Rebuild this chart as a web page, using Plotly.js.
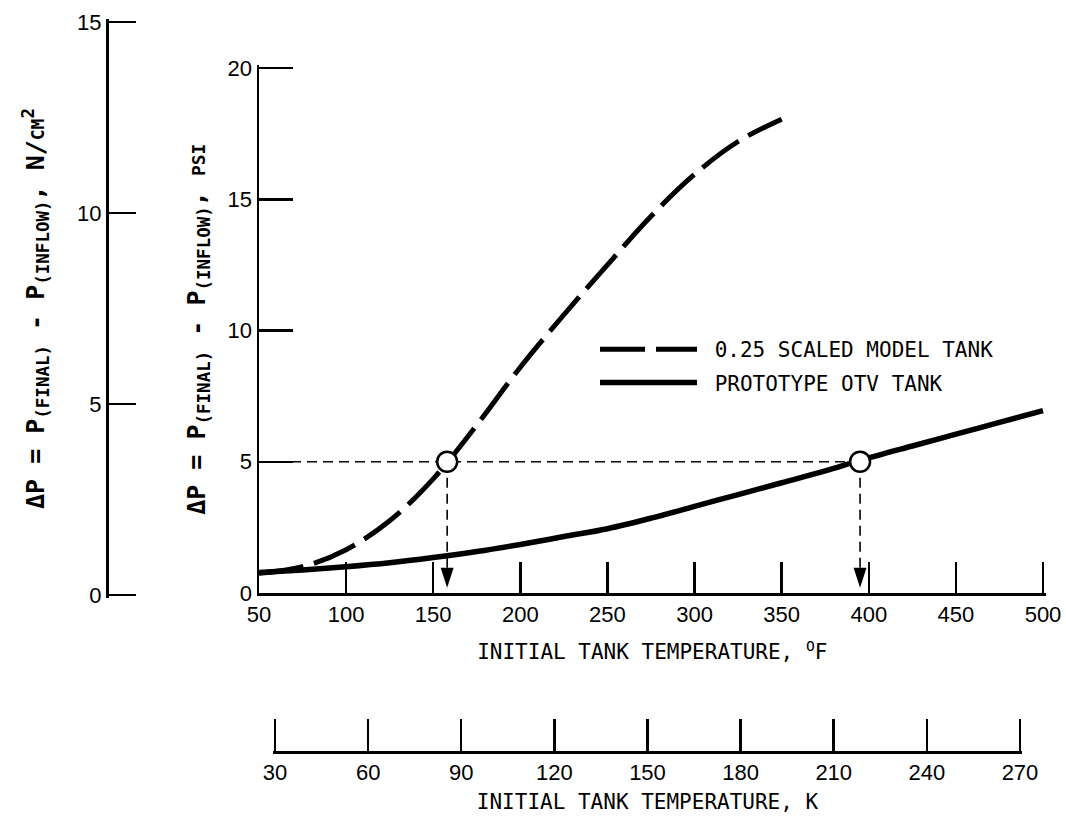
<!DOCTYPE html>
<html>
<head>
<meta charset="utf-8">
<script src="https://cdn.plot.ly/plotly-3.0.1.min.js"></script>
<style>
  html, body { margin: 0; padding: 0; background: #fff; }
  #chart { width: 1066px; height: 817px; }
</style>
</head>
<body>
<div id="chart"></div>
<script>
// ---- data ----
const modelTempF = [50, 75, 100, 125, 150, 175, 200, 225, 250, 275, 300, 325, 350];
const modelDp    = [0.75, 1.0, 1.65, 2.75, 4.35, 6.4, 8.6, 10.6, 12.5, 14.35, 15.95, 17.2, 18.05];

const protoTempF = [50, 75, 100, 125, 150, 175, 200, 225, 250, 275, 300, 325, 350, 375, 395, 425, 450, 475, 500];
const protoDp    = [0.78, 0.88, 1.0, 1.15, 1.35, 1.58, 1.85, 2.15, 2.45, 2.85, 3.3, 3.75, 4.2, 4.65, 5.05, 5.6, 6.05, 6.5, 6.95];

const matchDp = 5;                 // psi
const matchTempModel = 158;        // deg F
const matchTempProto = 395;        // deg F
const axisStartF = 50;
const arrowTipDp = 0.2;

const ticksF   = [50, 100, 150, 200, 250, 300, 350, 400, 450, 500];
const ticksPsi = [0, 5, 10, 15, 20];
const ticksN   = [0, 5, 10, 15];
const ticksK   = [30, 60, 90, 120, 150, 180, 210, 240, 270];

const seriesNames = ['0.25 SCALED MODEL TANK', 'PROTOTYPE OTV TANK'];

// ---- styling ----
const mono = 'DejaVu Sans Mono, Liberation Mono, monospace';
const nums = 'Liberation Sans Narrow, Liberation Sans, sans-serif';
const refLine = {color: 'black', width: 1.6, dash: '10px,6px'};

const traces = [
  { x: modelTempF, y: modelDp, type: 'scatter', mode: 'lines', name: '\u00a0' + seriesNames[0],
    legendgroup: 'a', line: {color: 'black', width: 5, dash: '45px,11px', shape: 'spline', smoothing: 1},
    hoverinfo: 'skip' },
  { x: protoTempF, y: protoDp, type: 'scatter', mode: 'lines', name: '\u00a0' + seriesNames[1],
    legendgroup: 'b', line: {color: 'black', width: 5.5, shape: 'spline', smoothing: 1},
    hoverinfo: 'skip' },
  { x: [axisStartF, matchTempProto], y: [matchDp, matchDp], type: 'scatter', mode: 'lines',
    line: refLine, showlegend: false, hoverinfo: 'skip' },
  { x: [matchTempModel, matchTempModel, null, matchTempProto, matchTempProto],
    y: [matchDp, arrowTipDp + 0.6, null, matchDp, arrowTipDp + 0.6], type: 'scatter', mode: 'lines',
    line: refLine, showlegend: false, hoverinfo: 'skip' },
  { x: [matchTempModel, matchTempProto], y: [arrowTipDp, arrowTipDp], type: 'scatter', mode: 'markers',
    marker: {symbol: 'arrow', angle: 180, size: 21, color: 'black', line: {width: 0}},
    showlegend: false, hoverinfo: 'skip', cliponaxis: false },
  { x: [matchTempModel, matchTempProto], y: [matchDp, matchDp], type: 'scatter', mode: 'markers',
    marker: {symbol: 'circle', size: 20, color: 'white', line: {color: 'black', width: 2.5}},
    showlegend: false, hoverinfo: 'skip' },
  // anchor traces for the secondary scales
  { x: [], y: [], xaxis: 'x', yaxis: 'y2', type: 'scatter', mode: 'none', showlegend: false, hoverinfo: 'skip' },
  { x: [], y: [], xaxis: 'x2', yaxis: 'y', type: 'scatter', mode: 'none', showlegend: false, hoverinfo: 'skip' }
];

const W = 1066, H = 817;
const L = 107, R = 18, T = 16, B = 65;
const pw = W - L - R, ph = H - T - B;
const px = v => (v - L) / pw;
const py = v => (H - B - v) / ph;

// pixel placement of the scales (first/last tick positions on the page)
const fPix = {v0: 50, p0: 259, v1: 500, p1: 1043};
const kPix = {v0: 30, p0: 275, v1: 270, p1: 1020};
const psiPix = {v0: 0, p0: 593, v1: 20, p1: 68};
const nPix = {v0: 0, p0: 595, v1: 15, p1: 22};
const lin = (s, v) => s.p0 + (v - s.v0) * (s.p1 - s.p0) / (s.v1 - s.v0);

// ranges padded a hair so the end ticks are drawn
const rangeF = [50, 501.5];
const rangeK = [29.2, 270.8];
const rangePsi = [0, 20.1];
const rangeN = [-0.07, 15.07];

const common = {
  showgrid: false, zeroline: false, showline: true, linecolor: 'black', linewidth: 2.5,
  ticks: 'inside', tickcolor: 'black', tickwidth: 2.5,
  tickfont: {family: nums, size: 22, color: 'black', stretch: 'condensed'}, tickmode: 'array', fixedrange: true
};

const yTitleFont = {family: mono, size: 25, color: 'black', weight: 'bold'};

const layout = {
  width: W, height: H,
  margin: {l: L, r: R, t: T, b: B, pad: 0},
  paper_bgcolor: 'white', plot_bgcolor: 'rgba(0,0,0,0)',
  showlegend: true,
  legend: {
    x: px(595), y: py(329), xanchor: 'left', yanchor: 'top',
    font: {family: mono, size: 21, color: 'black'},
    itemwidth: 97, traceorder: 'grouped', tracegroupgap: 3,
    bgcolor: 'rgba(0,0,0,0)', borderwidth: 0
  },
  xaxis: Object.assign({}, common, {
    domain: [px(lin(fPix, rangeF[0])), px(lin(fPix, rangeF[1]))], range: rangeF, anchor: 'y',
    tickvals: ticksF, ticktext: ticksF.map(String), ticklen: 31,
    title: {text: 'INITIAL TANK TEMPERATURE, <sup>O</sup>F', font: {family: mono, size: 21, color: 'black'}, standoff: 19}
  }),
  xaxis2: Object.assign({}, common, {
    domain: [px(lin(kPix, rangeK[0])), px(lin(kPix, rangeK[1]))], range: rangeK, anchor: 'free', position: 0, side: 'bottom',
    tickvals: ticksK, ticktext: ticksK.map(String), ticklen: 32,
    title: {text: 'INITIAL TANK TEMPERATURE, K', font: {family: mono, size: 21, color: 'black'}, standoff: 10}
  }),
  yaxis: Object.assign({}, common, {
    domain: [py(lin(psiPix, rangePsi[0])), py(lin(psiPix, rangePsi[1]))], range: rangePsi, anchor: 'x',
    tickvals: ticksPsi, ticktext: ticksPsi.map(String), ticklen: 34,
    title: {text: '\u0394P = P<sub>(FINAL)</sub> - P<sub>(INFLOW)</sub>, <span style="font-size:18px">PSI</span>',
            font: yTitleFont, standoff: 15}
  }),
  yaxis2: Object.assign({}, common, {
    domain: [py(lin(nPix, rangeN[0])), py(lin(nPix, rangeN[1]))], range: rangeN, anchor: 'free', position: 0, side: 'left',
    tickvals: ticksN, ticktext: ticksN.map(String), ticklen: 27,
    title: {text: '\u0394P = P<sub>(FINAL)</sub> - P<sub>(INFLOW)</sub>, N/<span style="font-size:18px">CM</span><sup>2</sup>',
            font: yTitleFont, standoff: 24}
  })
};

Plotly.newPlot('chart', traces, layout, {displayModeBar: false, staticPlot: true});
</script>
</body>
</html>
